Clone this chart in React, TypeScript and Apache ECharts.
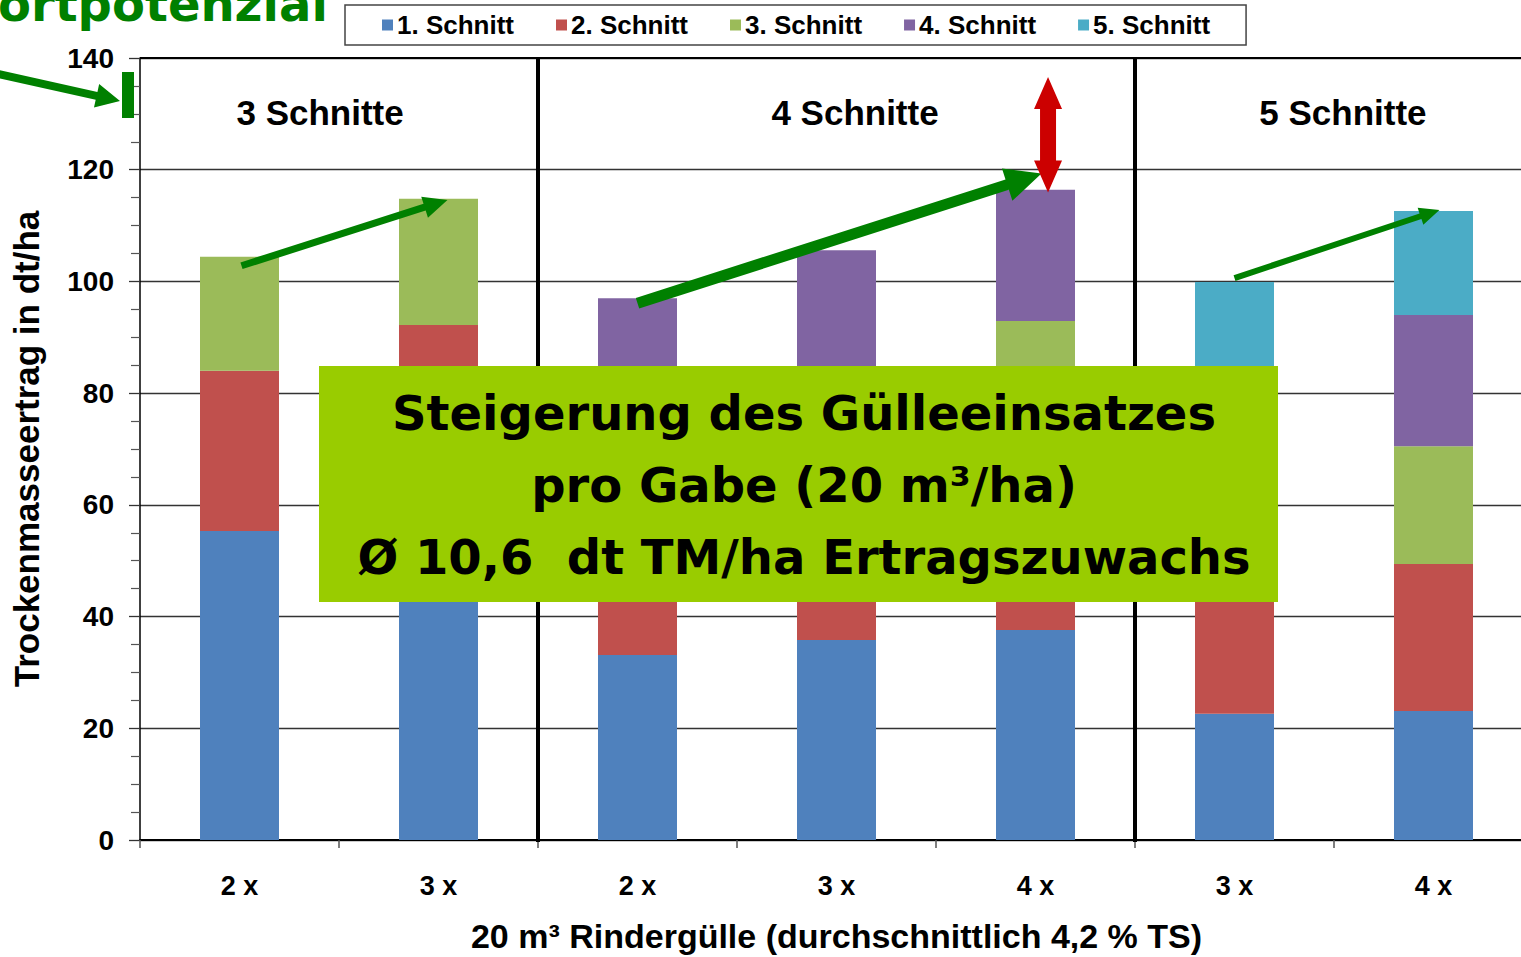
import React, { useEffect, useRef } from "react";
import * as echarts from "echarts";

const categories = ["2 x", "3 x", "2 x", "3 x", "4 x", "3 x", "4 x"];
const seriesNames = ["1. Schnitt", "2. Schnitt", "3. Schnitt", "4. Schnitt", "5. Schnitt"];
const cut1 = [55.3, 58.0, 33.1, 35.8, 37.6, 22.6, 23.1];
const cut2 = [28.7, 34.2, 27.0, 28.0, 27.0, 24.4, 26.3];
const cut3 = [20.4, 22.6, 20.0, 18.2, 28.3, 20.0, 21.1];
const cut4 = [null, null, 16.9, 23.6, 23.5, 15.0, 23.5];
const cut5 = [null, null, null, null, null, 17.9, 18.6];
const colors = ["#4F81BD", "#C0504D", "#9BBB59", "#8064A2", "#4BACC6"];
const yTicks = { min: 0, max: 140, interval: 20 };

const sectionTitles = [
  { text: "3 Schnitte", x: 0.405, y: 130.3 },
  { text: "4 Schnitte", x: 3.093, y: 130.3 },
  { text: "5 Schnitte", x: 5.545, y: 130.3 },
];
const separators = [1.5, 4.5];
// arrows in data space: [x1, y1, x2, y2, shaftHalf, headLen, headHalf]
const greenArrows = [
  [0.01, 102.8, 1.045, 114.6, 3.5, 24, 11],
  [2.0, 96.1, 4.03, 119.3, 5.5, 36, 17],
  [5.0, 100.6, 6.03, 112.8, 3, 20, 9],
];
const redArrow = [4.063, 136.6, 4.063, 115.9, 8, 32, 14];
const boxLines = ["Steigerung des Gülleeinsatzes", "pro Gabe (20 m³/ha)", "Ø 10,6  dt TM/ha Ertragszuwachs"];

function arrowPts(x1, y1, x2, y2, w, L, H, double = false) {
  const dx = x2 - x1, dy = y2 - y1;
  const len = Math.hypot(dx, dy);
  const ux = dx / len, uy = dy / len;
  const nx = -uy, ny = ux;
  const bx = x2 - ux * L, by = y2 - uy * L;
  const pts = [];
  if (double) {
    const b0x = x1 + ux * L, b0y = y1 + uy * L;
    pts.push([x1, y1]);
    pts.push([b0x + nx * H, b0y + ny * H]);
    pts.push([b0x + nx * w, b0y + ny * w]);
    pts.push([bx + nx * w, by + ny * w]);
    pts.push([bx + nx * H, by + ny * H]);
    pts.push([x2, y2]);
    pts.push([bx - nx * H, by - ny * H]);
    pts.push([bx - nx * w, by - ny * w]);
    pts.push([b0x - nx * w, b0y - ny * w]);
    pts.push([b0x - nx * H, b0y - ny * H]);
    return pts;
  }
  pts.push([x1 + nx * w, y1 + ny * w]);
  pts.push([bx + nx * w, by + ny * w]);
  pts.push([bx + nx * H, by + ny * H]);
  pts.push([x2, y2]);
  pts.push([bx - nx * H, by - ny * H]);
  pts.push([bx - nx * w, by - ny * w]);
  pts.push([x1 - nx * w, y1 - ny * w]);
  return pts;
}

export default function App() {
  const ref = useRef<HTMLDivElement>(null);
  useEffect(() => {
    document.body.style.margin = "0";
    const chart = echarts.init(ref.current!, null, { renderer: "svg" });
    const font = "'Liberation Sans', Arial, sans-serif";
    const data = [cut1, cut2, cut3, cut4, cut5];
    chart.setOption({
      animation: false,
      color: colors,
      textStyle: { fontFamily: font },
      legend: {
        data: seriesNames,
        left: 345,
        top: 5,
        padding: [7, 36, 7, 37],
        itemGap: 42,
        itemWidth: 11,
        itemHeight: 11,
        itemStyle: { borderWidth: 0 },
        icon: "rect",
        borderColor: "#444",
        borderWidth: 1.5,
        textStyle: { fontFamily: font, fontWeight: "bold", fontSize: 26, color: "#000", padding: [0, 0, 0, -1] },
      },
      grid: { left: 140, right: -12, top: 58, bottom: 117, containLabel: false, outerBoundsMode: "none" },
      xAxis: [
        {
          type: "category",
          data: categories,
          axisLine: { lineStyle: { color: "#000", width: 2 } },
          axisTick: { show: true, length: 8, lineStyle: { color: "#555", width: 1.5 } },
          axisLabel: { fontFamily: font, fontSize: 27, fontWeight: "bold", color: "#000", margin: 32 },
          name: "20 m³ Rindergülle (durchschnittlich 4,2 % TS)",
          nameLocation: "middle",
          nameGap: 79,
          nameTextStyle: { fontFamily: font, fontSize: 34, fontWeight: "bold", color: "#000" },
        },
        {
          type: "value",
          min: -0.5,
          max: 6.5,
          show: false,
          position: "bottom",
        },
      ],
      yAxis: {
        type: "value",
        min: yTicks.min,
        max: yTicks.max,
        interval: yTicks.interval,
        axisLine: { show: true, onZero: false, lineStyle: { color: "#000", width: 1.5 } },
        axisTick: { show: true, length: 11, lineStyle: { color: "#333", width: 1.3 } },
        minorTick: { show: true, splitNumber: 4, length: 9, lineStyle: { color: "#555", width: 1.2 } },
        splitLine: { show: true, lineStyle: { color: "#333", width: 1.3 } },
        axisLabel: { fontFamily: font, fontSize: 28, fontWeight: "bold", color: "#000", margin: 26 },
        name: "Trockenmasseertrag in dt/ha",
        nameLocation: "middle",
        nameGap: 96,
        nameTextStyle: { fontFamily: font, fontSize: 35, fontWeight: "bold", color: "#000" },
      },
      series: seriesNames.map((n, i) => ({
        name: n,
        type: "bar",
        stack: "total",
        barWidth: 79,
        xAxisIndex: 0,
        data: data[i],
        itemStyle: { color: colors[i] },
        z: 2,
      })),
    });

    const p = (x, y) => [
      chart.convertToPixel({ xAxisIndex: 1 }, x) as number,
      chart.convertToPixel({ yAxisIndex: 0 }, y) as number,
    ];
    const graphics: any[] = [];
    separators.forEach((s) => {
      const a = p(s, yTicks.max), b = p(s, 0);
      graphics.push({ type: "line", shape: { x1: a[0], y1: a[1], x2: b[0], y2: b[1] + 2 }, style: { stroke: "#000", lineWidth: 4 }, z: 10 });
    });
    {
      const a = p(-0.5, yTicks.max), b = p(6.5, yTicks.max);
      graphics.push({ type: "line", shape: { x1: a[0], y1: a[1], x2: b[0], y2: b[1] }, style: { stroke: "#000", lineWidth: 2 }, z: 10 });
    }
    sectionTitles.forEach((t) => {
      const c = p(t.x, t.y);
      graphics.push({
        type: "text", x: c[0], y: c[1], z: 20,
        style: { text: t.text, font: `bold 35px ${font}`, fill: "#000", align: "center", verticalAlign: "middle" },
      });
    });
    greenArrows.forEach((a) => {
      const s = p(a[0], a[1]), e = p(a[2], a[3]);
      graphics.push({ type: "polygon", z: 30, shape: { points: arrowPts(s[0], s[1], e[0], e[1], a[4], a[5], a[6]) }, style: { fill: "#008000" } });
    });
    {
      const s = p(redArrow[0], redArrow[1]), e = p(redArrow[2], redArrow[3]);
      graphics.push({ type: "polygon", z: 30, shape: { points: arrowPts(s[0], s[1], e[0], e[1], redArrow[4], redArrow[5], redArrow[6], true) }, style: { fill: "#CC0000" } });
    }
    graphics.push({ type: "rect", z: 40, shape: { x: 319, y: 366, width: 959, height: 236 }, style: { fill: "#99CC00" } });
    boxLines.forEach((l, i) => {
      graphics.push({
        type: "text", z: 41, x: 804, y: 413 + i * 72,
        style: { text: l, font: `bold 48px 'DejaVu Sans', Verdana, sans-serif`, fill: "#000", align: "center", verticalAlign: "middle" },
      });
    });
    graphics.push({
      type: "text", z: 41, x: -2, y: 4,
      style: { text: "ortpotenzial", font: `bold 48px 'DejaVu Sans', Verdana, sans-serif`, fill: "#008000", align: "left", verticalAlign: "middle" },
    });
    graphics.push({ type: "polygon", z: 41, shape: { points: arrowPts(-2, 74, 120, 101, 4, 24, 12) }, style: { fill: "#008000" } });
    graphics.push({ type: "rect", z: 41, shape: { x: 122, y: 72, width: 12, height: 46 }, style: { fill: "#008000" } });

    chart.setOption({ graphic: graphics });
    return () => chart.dispose();
  }, []);
  return <div ref={ref} style={{ width: 1521, height: 957 }} />;
}
